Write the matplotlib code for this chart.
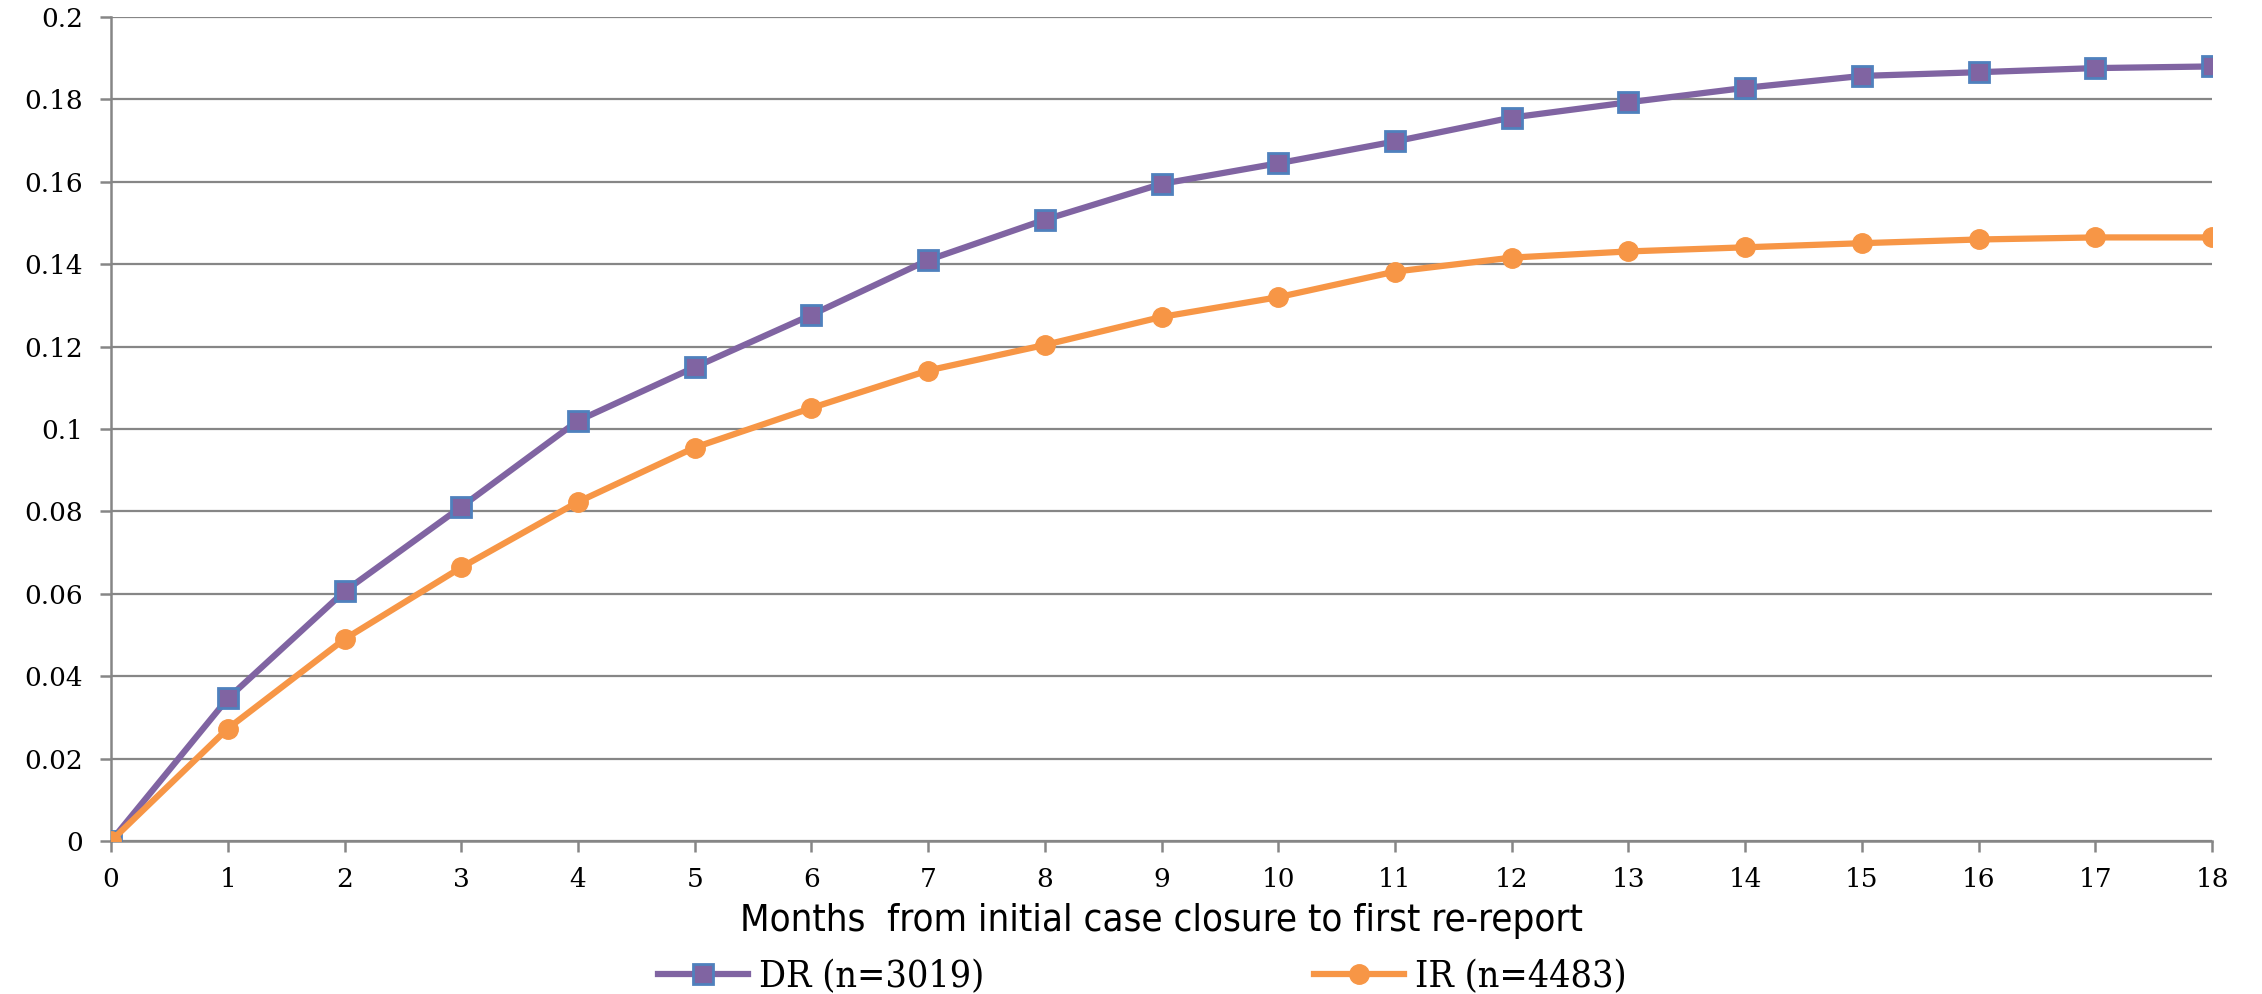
import matplotlib
matplotlib.use("Agg")
import matplotlib.pyplot as plt
from matplotlib.ticker import MultipleLocator, FuncFormatter

months = list(range(19))
dr_rate = [0.0, 0.0346, 0.0606, 0.0811, 0.102, 0.115, 0.1277, 0.141, 0.1508, 0.1595,
           0.1645, 0.1698, 0.1756, 0.1793, 0.1828, 0.1857, 0.1866, 0.1876, 0.188]
ir_rate = [0.0, 0.0273, 0.0490, 0.0664, 0.0823, 0.0955, 0.1051, 0.1142, 0.1204, 0.1272,
           0.1320, 0.1382, 0.1416, 0.1431, 0.1441, 0.1451, 0.1460, 0.1465, 0.1465]
dr_label = "DR (n=3019)"
ir_label = "IR (n=4483)"
x_title = "Months  from initial case closure to first re-report"

PURPLE = "#8064A2"
ORANGE = "#F79646"
BLUE_EDGE = "#4F81BD"
GRID = "#868686"

fig = plt.figure(figsize=(22.62, 9.94), dpi=100)
ax = fig.add_axes([0.0491, 0.1539, 0.9288, 0.829])

ax.plot(months, dr_rate, color=PURPLE, lw=4.5, marker="s", ms=14,
        mfc=PURPLE, mec=BLUE_EDGE, mew=2, label=dr_label, zorder=3)
ax.plot(months, ir_rate, color=ORANGE, lw=4.5, marker="o", ms=14,
        mfc=ORANGE, mec=ORANGE, mew=1, label=ir_label, zorder=4)

ax.set_xlim(0, 18)
ax.set_ylim(0, 0.2)
ax.xaxis.set_major_locator(MultipleLocator(1))
ax.yaxis.set_major_locator(MultipleLocator(0.02))
ax.yaxis.set_major_formatter(FuncFormatter(lambda v, p: "0" if abs(v) < 1e-9 else f"{v:.2f}".rstrip("0")))

ax.grid(axis="y", color=GRID, lw=1.6)
ax.set_axisbelow(True)
for s in ("top", "right"):
    ax.spines[s].set_visible(False)
for s in ("left", "bottom"):
    ax.spines[s].set_color(GRID)
    ax.spines[s].set_linewidth(1.8)
ax.tick_params(axis="both", colors=GRID, width=1.8, length=8, direction="out",
               labelcolor="black", labelsize=19, labelfontfamily="DejaVu Serif")
ax.tick_params(axis="y", pad=12)
ax.tick_params(axis="x", pad=11)

ax.set_xlabel(x_title, fontsize=27.5, family="DejaVu Sans", fontstretch="condensed",
              va="center")
ax.xaxis.set_label_coords(0.5, -0.097)

fig.legend(loc="center", bbox_to_anchor=(0.505, 0.017), ncol=2, frameon=False,
           prop={"family": "DejaVu Serif", "stretch": "condensed", "size": 27},
           handlelength=2.4, handletextpad=0.3, columnspacing=8.8,
           borderpad=0, borderaxespad=0)

fig.savefig("out.png", dpi=100, facecolor="white")
